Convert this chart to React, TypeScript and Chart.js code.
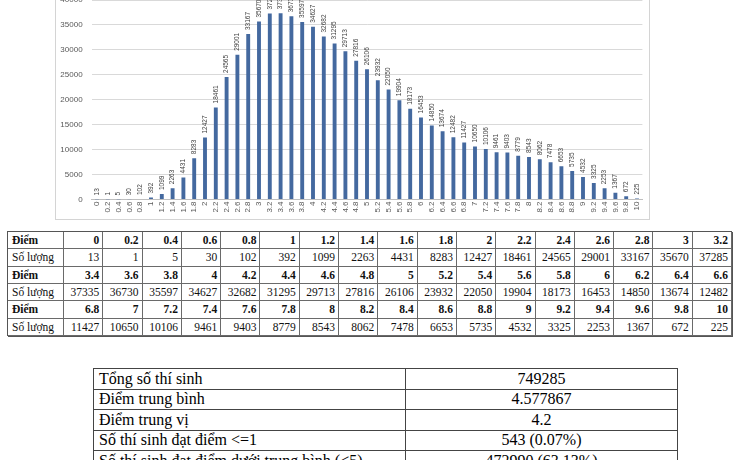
import React, { useEffect, useRef } from "react";
import { Chart, registerables } from "chart.js";

Chart.register(...registerables);

const scores = [
  "0", "0.2", "0.4", "0.6", "0.8", "1", "1.2", "1.4", "1.6", "1.8",
  "2", "2.2", "2.4", "2.6", "2.8", "3", "3.2", "3.4", "3.6", "3.8",
  "4", "4.2", "4.4", "4.6", "4.8", "5", "5.2", "5.4", "5.6", "5.8",
  "6", "6.2", "6.4", "6.6", "6.8", "7", "7.2", "7.4", "7.6", "7.8",
  "8", "8.2", "8.4", "8.6", "8.8", "9", "9.2", "9.4", "9.6", "9.8", "10",
];

const counts = [
  13, 1, 5, 30, 102, 392, 1099, 2263, 4431, 8283,
  12427, 18461, 24565, 29001, 33167, 35670, 37285, 37335, 36730, 35597,
  34627, 32682, 31295, 29713, 27816, 26106, 23932, 22050, 19904, 18173,
  16453, 14850, 13674, 12482, 11427, 10650, 10106, 9461, 9403, 8779,
  8543, 8062, 7478, 6653, 5735, 4532, 3325, 2253, 1367, 672, 225,
];

const yTicksMax = 40000;
const yTickStep = 5000;

const rowLabelScore = "Điểm";
const rowLabelCount = "Số lượng";

const summaryLabels = [
  "Tổng số thí sinh",
  "Điểm trung bình",
  "Điểm trung vị",
  "Số thí sinh đạt điểm <=1",
  "Số thí sinh đạt điểm dưới trung bình (<5)",
];
const summaryValues = ["749285", "4.577867", "4.2", "543 (0.07%)", "472990 (63.13%)"];

const serif = "'Liberation Serif', 'Times New Roman', 'DejaVu Serif', serif";

const barLabelPlugin = {
  id: "barLabels",
  afterDatasetsDraw(chart: any) {
    const ctx = chart.ctx;
    const meta = chart.getDatasetMeta(0);
    const data = chart.data.datasets[0].data;
    ctx.save();
    ctx.font = "6.5px 'Liberation Sans', Arial, sans-serif";
    ctx.fillStyle = "#404040";
    ctx.textAlign = "left";
    ctx.textBaseline = "middle";
    meta.data.forEach((bar: any, i: number) => {
      ctx.save();
      ctx.translate(bar.x, bar.y - 4);
      ctx.rotate(-Math.PI / 2);
      ctx.fillText(String(data[i]), 0, 0);
      ctx.restore();
    });
    ctx.restore();
  },
};

function BarChart() {
  const ref = useRef<HTMLCanvasElement | null>(null);
  useEffect(() => {
    if (!ref.current) return;
    const chart = new Chart(ref.current, {
      type: "bar",
      data: {
        labels: scores,
        datasets: [
          {
            data: counts,
            backgroundColor: "#44699f",
            barPercentage: 0.36,
            categoryPercentage: 1,
          },
        ],
      },
      options: {
        animation: false,
        responsive: false,
        maintainAspectRatio: false,
        layout: { padding: { top: 25, right: 7.6, bottom: 0, left: 0 } },
        plugins: { legend: { display: false }, tooltip: { enabled: false } },
        scales: {
          x: {
            grid: { display: false, drawTicks: false },
            border: { display: true, color: "#bfbfbf" },
            ticks: {
              autoSkip: false,
              minRotation: 90,
              maxRotation: 90,
              padding: 2,
              color: "#595959",
              font: { size: 8, family: "'Liberation Sans', Arial, sans-serif" },
            },
            afterFit: (s: any) => {
              s.height = 20.5;
            },
          },
          y: {
            min: 0,
            max: yTicksMax,
            grid: { color: "#d9d9d9", drawTicks: false },
            border: { display: false },
            ticks: {
              stepSize: yTickStep,
              padding: 9,
              color: "#595959",
              font: { size: 8, family: "'Liberation Sans', Arial, sans-serif" },
              callback: (v: any) => String(v),
            },
            afterFit: (s: any) => {
              s.width = 36.6;
            },
          },
        },
      },
      plugins: [barLabelPlugin],
    });
    return () => chart.destroy();
  }, []);
  return (
    <canvas
      ref={ref}
      width={595}
      height={245}
      style={{ position: "absolute", left: 55, top: -25, width: 595, height: 245 }}
    />
  );
}

function ScoreTable() {
  const blocks = [0, 17, 34];
  const cells: React.ReactNode[] = [];
  const cellBase: React.CSSProperties = {
    borderRight: "1px solid #6a6a6a",
    borderBottom: "1px solid #6a6a6a",
    boxSizing: "border-box",
    display: "flex",
    alignItems: "center",
    overflow: "hidden",
    whiteSpace: "nowrap",
  };
  blocks.forEach((start, b) => {
    const sc = scores.slice(start, start + 17);
    const ct = counts.slice(start, start + 17);
    cells.push(
      <div key={`sl${b}`} style={{ ...cellBase, paddingLeft: 4, fontWeight: "bold" }}>
        {rowLabelScore}
      </div>
    );
    sc.forEach((s, i) =>
      cells.push(
        <div key={`s${b}-${i}`} style={{ ...cellBase, justifyContent: "flex-end", paddingRight: 3, fontWeight: "bold" }}>
          {s}
        </div>
      )
    );
    cells.push(
      <div key={`cl${b}`} style={{ ...cellBase, paddingLeft: 4 }}>
        {rowLabelCount}
      </div>
    );
    ct.forEach((c, i) =>
      cells.push(
        <div key={`c${b}-${i}`} style={{ ...cellBase, justifyContent: "flex-end", paddingRight: 3 }}>
          {c}
        </div>
      )
    );
  });
  return (
    <div
      style={{
        position: "absolute",
        left: 7,
        top: 231,
        width: 725,
        height: 105,
        display: "grid",
        gridTemplateColumns: "56px repeat(17, 1fr)",
        gridTemplateRows: "repeat(6, 1fr)",
        borderTop: "1.5px solid #555",
        borderLeft: "1.5px solid #555",
        boxSizing: "border-box",
        fontFamily: serif,
        fontSize: 11.5,
        color: "#111",
        boxShadow: "1px 1px 0 #555",
      }}
    >
      {cells}
    </div>
  );
}

function SummaryTable() {
  const cellBase: React.CSSProperties = {
    borderRight: "1px solid #444",
    borderBottom: "1px solid #444",
    boxSizing: "border-box",
    display: "flex",
    alignItems: "center",
    overflow: "hidden",
    whiteSpace: "nowrap",
  };
  const cells: React.ReactNode[] = [];
  summaryLabels.forEach((l, i) => {
    cells.push(
      <div key={`l${i}`} style={{ ...cellBase, paddingLeft: 5 }}>
        {l}
      </div>
    );
    cells.push(
      <div key={`v${i}`} style={{ ...cellBase, justifyContent: "center" }}>
        {summaryValues[i]}
      </div>
    );
  });
  return (
    <div
      style={{
        position: "absolute",
        left: 93,
        top: 368,
        width: 585,
        display: "grid",
        gridTemplateColumns: "312px 1fr",
        gridAutoRows: "20.5px",
        borderTop: "1px solid #444",
        borderLeft: "1px solid #444",
        boxSizing: "border-box",
        fontFamily: serif,
        fontSize: 16,
        color: "#000",
      }}
    >
      {cells}
    </div>
  );
}

export default function App() {
  return (
    <div
      style={{
        position: "absolute",
        left: 0,
        top: 0,
        width: 736,
        height: 460,
        overflow: "hidden",
        background: "#fff",
      }}
    >
      <div
        style={{
          position: "absolute",
          left: 55,
          top: -30,
          width: 595,
          height: 250,
          border: "1px solid #d4d4d4",
          boxSizing: "border-box",
        }}
      />
      <BarChart />
      <ScoreTable />
      <SummaryTable />
    </div>
  );
}
